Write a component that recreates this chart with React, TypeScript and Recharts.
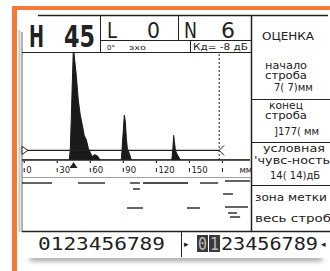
import React from "react";
import {
  AreaChart,
  Area,
  XAxis,
  YAxis,
  ReferenceLine,
  ReferenceDot,
  ComposedChart,
  Line,
} from "recharts";

// A-scan signal: depth (mm) and amplitude (% of screen height)
const depthMm = [
  -2, 40.9, 41.8, 42.7, 43.6, 44.5, 45.2, 47.3, 49.1, 50.9, 52.7, 54.5, 56.4, 58.2,
  60, 61.8, 63.6, 66.4, 69, 88.2, 89.1, 90, 90.9, 91.8, 92.7, 93.6, 95.5, 97.3,
  134, 135, 135.7, 136.4, 137.3, 139, 141.8, 205,
];
const amplitude = [
  0, 0, 9, 37, 70, 100, 100, 79, 56, 42, 33, 23, 19, 11, 7, 3, 5, 4, 0, 0, 14, 28,
  42, 36, 21, 11, 6, 0, 0, 11, 23, 17, 9, 5, 0, 0,
];

const axisTicks = [0, 30, 60, 90, 120, 150, 180];
const axisTickLabels = ["0", "30", "60", "90", "120", "150", "мм"];

const gateStartMm = -2;
const gateEndMm = 177;
const gateLevel = 9;
const peakMarkerMm = 44.8;

// B-scan fragments: start mm, end mm, depth row
const bStart = [-2, 48.8, 96, 107.9, 159.6, 182.3, 98.8, 93.3, 147.8, 180.5, 182.3, 185, 186.8];
const bEnd = [25.2, 73.4, 105, 148.7, 176, 205, 105, 107.9, 159.6, 189.6, 203.2, 193.2, 196];
const bDepth = [7, 7, 7, 7, 7, 5, 13, 32, 32, 18, 31, 37, 41];

const headerH = "H";
const headerHValue = "45";
const headerL = "L";
const headerLValue = "0";
const headerN = "N";
const headerNValue = "6";

const data = depthMm.map((mm, i) => ({ mm, amp: amplitude[i] }));
const bSegments = bStart.map((s, i) => [
  { x: s, y: bDepth[i] },
  { x: bEnd[i], y: bDepth[i] },
]);

const INK = "#222";
const ORANGE = "#F47A35";

const Tick = (props: any) => {
  const { x, y, payload, index } = props;
  const label = axisTickLabels[index] ?? String(payload.value);
  const dx = label === "мм" ? 17 : 2;
  return (
    <g>
      <line x1={x} x2={x} y1={y + 1} y2={y + 3} stroke={INK} strokeWidth={1.2} />
      <line x1={x} x2={x} y1={y + 8} y2={y + 12} stroke={INK} strokeWidth={1} />
      <text x={x + dx} y={y + 13} fontSize={8.5} fontFamily="DejaVu Sans" fill={INK}>
        {label}
      </text>
    </g>
  );
};

const GateStart = (props: any) => {
  const { cx, cy } = props;
  return (
    <path
      d={`M ${cx} ${cy - 4} L ${cx + 6} ${cy} L ${cx} ${cy + 4} Z`}
      fill="#fff"
      stroke={INK}
      strokeWidth={1}
    />
  );
};

const GateEnd = (props: any) => {
  const { cx, cy } = props;
  return (
    <path
      d={`M ${cx + 5} ${cy - 5} L ${cx} ${cy} L ${cx + 5} ${cy + 5}`}
      fill="none"
      stroke={INK}
      strokeWidth={1}
    />
  );
};

const PeakMarker = (props: any) => {
  const { cx, cy } = props;
  return (
    <path
      d={`M ${cx - 4} ${cy + 8} L ${cx} ${cy + 2} L ${cx + 4} ${cy + 8} Z`}
      fill={INK}
    />
  );
};

const T = (p: any) => (
  <text
    fontFamily="DejaVu Sans"
    fill={INK}
    lengthAdjust="spacingAndGlyphs"
    {...p}
  />
);

export default function App() {
  return (
    <div
      style={{
        position: "absolute",
        left: 0,
        top: 0,
        width: 330,
        height: 271,
        overflow: "hidden",
        background: "#fff",
      }}
    >
      <svg width={330} height={271} style={{ position: "absolute", left: 0, top: 0 }}>
        <defs>
          <filter id="blur" x="-10%" y="-200%" width="120%" height="500%">
            <feGaussianBlur stdDeviation="2.5" />
          </filter>
        </defs>
        {/* shadow */}
        <rect x={30} y={256} width={292} height={5} fill="#999" filter="url(#blur)" />
        <rect x={17} y={10} width={313} height={248} fill="#fff" />
        {/* orange frame */}
        <rect x={12} y={6} width={318} height={4} fill={ORANGE} />
        <rect x={12} y={6} width={5} height={265} fill={ORANGE} />
        {/* display frame */}
        <line x1={38} x2={328} y1={15.5} y2={15.5} stroke={INK} strokeWidth={1.5} />
        <line x1={19.5} x2={19.5} y1={30} y2={232} stroke="#c8c8c8" strokeWidth={2} />
        <line x1={22} x2={22} y1={32} y2={232} stroke="#666" strokeWidth={1} />
        <line x1={100.5} x2={100.5} y1={16} y2={52} stroke={INK} />
        <line x1={178.5} x2={178.5} y1={16} y2={40} stroke={INK} />
        <line x1={100} x2={251} y1={40.5} y2={40.5} stroke={INK} />
        <line x1={190.5} x2={190.5} y1={40} y2={52} stroke={INK} />
        <line x1={22} x2={251} y1={52.5} y2={52.5} stroke={INK} />
        <line x1={251.5} x2={251.5} y1={16} y2={232} stroke={INK} strokeWidth={1.5} />
        <line x1={251} x2={330} y1={99.5} y2={99.5} stroke={INK} />
        <line x1={251} x2={330} y1={142.5} y2={142.5} stroke={INK} />
        <line x1={251} x2={330} y1={185.5} y2={185.5} stroke={INK} />
        <line x1={22} x2={330} y1={231.5} y2={231.5} stroke={INK} strokeWidth={1.5} />
        <line x1={181.5} x2={181.5} y1={232} y2={257} stroke={INK} />
        <line x1={22} x2={251} y1={177.5} y2={177.5} stroke="#888" strokeWidth={0.8} />

        {/* header */}
        <T x={29} y={47} fontSize={31} fontWeight="bold" textLength={15}>{headerH}</T>
        <T x={64} y={47} fontSize={31} fontWeight="bold" textLength={31}>{headerHValue}</T>
        <T x={107} y={38} fontSize={21} textLength={10}>{headerL}</T>
        <T x={147} y={38} fontSize={21} textLength={13}>{headerLValue}</T>
        <T x={184} y={38} fontSize={21} textLength={13}>{headerN}</T>
        <T x={221} y={38} fontSize={21} textLength={14}>{headerNValue}</T>
        <T x={107} y={50} fontSize={7}>0°</T>
        <T x={129} y={50} fontSize={7} textLength={17}>эхо</T>
        <T x={193} y={50} fontSize={8} textLength={55}>Кд= -8 дБ</T>

        {/* right panel */}
        <T x={288} y={40} fontSize={10} textAnchor="middle" textLength={52}>ОЦЕНКА</T>
        <T x={286} y={69} fontSize={10} textAnchor="middle" textLength={42}>начало</T>
        <T x={286} y={79} fontSize={10} textAnchor="middle" textLength={42}>строба</T>
        <T x={274} y={91} fontSize={10}>{"7(  7)мм"}</T>
        <T x={286} y={109} fontSize={10} textAnchor="middle" textLength={34}>конец</T>
        <T x={286} y={119} fontSize={10} textAnchor="middle" textLength={42}>строба</T>
        <T x={274} y={135} fontSize={10}>{"]177(    мм"}</T>
        <T x={294} y={152} fontSize={10} textAnchor="middle" textLength={62}>условная</T>
        <T x={254} y={164} fontSize={10} textLength={76}>{"'чувс-ность"}</T>
        <T x={270} y={179} fontSize={10}>{"14( 14)дБ"}</T>
        <T x={255} y={201} fontSize={10} textLength={72}>зона метки</T>
        <T x={255} y={222} fontSize={10} textLength={76}>весь строб</T>

        {/* bottom row */}
        <T x={38} y={250} fontSize={18} fontFamily="DejaVu Sans Mono" textLength={127}>
          0123456789
        </T>
        <T x={184} y={247} fontSize={9}>▸</T>
        <rect x={197} y={235} width={11} height={17} fill="#3a3a3a" />
        <rect x={209} y={235} width={11} height={17} fill="#3a3a3a" />
        <T x={198} y={250} fontSize={18} fontFamily="DejaVu Sans Mono" textLength={9} fill="#bbb">0</T>
        <T x={210} y={250} fontSize={18} fontFamily="DejaVu Sans Mono" textLength={9} fill="#bbb">1</T>
        <T x={221} y={250} fontSize={18} fontFamily="DejaVu Sans Mono" textLength={97}>23456789</T>
        <T x={321} y={247} fontSize={9}>◂</T>
      </svg>

      <div style={{ position: "absolute", left: 0, top: 0 }}>
        <AreaChart
          width={330}
          height={271}
          data={data}
          margin={{ top: 53, right: 80, bottom: 91, left: 22 }}
        >
          <XAxis
            dataKey="mm"
            type="number"
            domain={[-2, 205]}
            ticks={axisTicks}
            allowDataOverflow
            height={20}
            tickSize={0}
            tickMargin={0}
            tickLine={false}
            axisLine={{ stroke: INK, strokeWidth: 1.5 }}
            tick={<Tick />}
            interval={0}
          />
          <YAxis hide width={0} type="number" domain={[0, 100]} allowDataOverflow />
          <Area
            dataKey="amp"
            type="linear"
            fill="#1a1a1a"
            fillOpacity={1}
            stroke="#1a1a1a"
            strokeWidth={1}
            isAnimationActive={false}
            baseValue={0}
          />
          <ReferenceLine
            segment={[
              { x: gateStartMm, y: gateLevel },
              { x: gateEndMm, y: gateLevel },
            ]}
            stroke={INK}
            strokeWidth={1.2}
            ifOverflow="visible"
          />
          <ReferenceLine
            x={gateEndMm}
            stroke={INK}
            strokeDasharray="2 2"
            strokeWidth={1}
          />
          <ReferenceDot x={gateStartMm} y={gateLevel} shape={<GateStart />} ifOverflow="visible" />
          <ReferenceDot x={gateEndMm} y={gateLevel} shape={<GateEnd />} ifOverflow="visible" />
          <ReferenceDot x={peakMarkerMm} y={0} shape={<PeakMarker />} ifOverflow="visible" />
        </AreaChart>
      </div>

      <div style={{ position: "absolute", left: 0, top: 176 }}>
        <ComposedChart
          width={330}
          height={56}
          margin={{ top: 0, right: 80, bottom: 0, left: 22 }}
        >
          <XAxis dataKey="x" type="number" domain={[-2, 205]} hide height={0} allowDataOverflow />
          <YAxis dataKey="y" type="number" domain={[0, 56]} reversed hide width={0} />
          {bSegments.map((seg, i) => (
            <Line
              key={i}
              data={seg}
              dataKey="y"
              stroke="#111"
              strokeWidth={1.3}
              dot={false}
              isAnimationActive={false}
            />
          ))}
        </ComposedChart>
      </div>
    </div>
  );
}
